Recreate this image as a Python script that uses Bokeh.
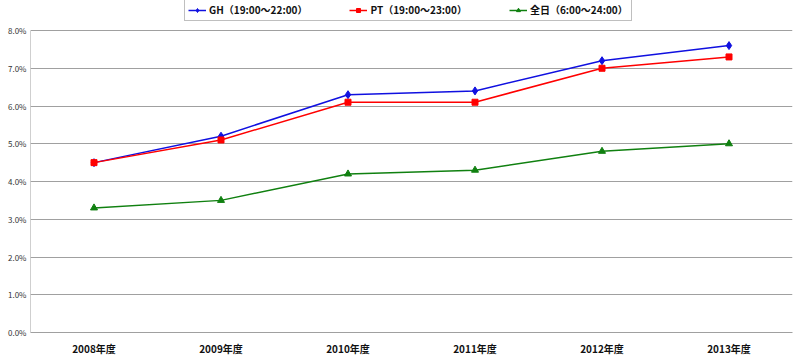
from bokeh.plotting import figure
from bokeh.models import Legend, LegendItem, NumeralTickFormatter, FixedTicker, Range1d
from bokeh.embed import file_html
from bokeh.resources import INLINE

years = ["2008年度", "2009年度", "2010年度", "2011年度", "2012年度", "2013年度"]
gh = [0.045, 0.052, 0.063, 0.064, 0.072, 0.076]
pt = [0.045, 0.051, 0.061, 0.061, 0.070, 0.073]
allday = [0.033, 0.035, 0.042, 0.043, 0.048, 0.050]
names = ["GH（19:00～22:00）", "PT（19:00～23:00）", "全日（6:00～24:00）"]
y_ticks = [0.0, 0.01, 0.02, 0.03, 0.04, 0.05, 0.06, 0.07, 0.08]
y_max = 0.08

FONT = "Noto Sans CJK JP"

# frame spans from the top of the page so the legend (drawn inside the frame) is not clipped;
# the 8.0% line sits 30px below the top
top_extra = 30 / 302
p = figure(width=800, height=359, x_range=years, y_range=Range1d(0, y_max * (1 + top_extra)),
           output_backend="svg", toolbar_location=None,
           min_border_left=30, min_border_right=8, min_border_top=0, min_border_bottom=27)
p.outline_line_color = None
p.background_fill_color = "white"
p.border_fill_color = "white"

p.xgrid.grid_line_color = None
p.ygrid.grid_line_color = "#a0a0a0"
p.ygrid.grid_line_width = 1
p.yaxis.ticker = FixedTicker(ticks=y_ticks)
p.yaxis.formatter = NumeralTickFormatter(format="0.0%")
p.yaxis.major_label_text_font = FONT
p.yaxis.major_label_text_font_size = "8px"
p.yaxis.major_label_text_color = "#333333"
p.yaxis.major_tick_out = 0
p.yaxis.major_tick_in = 0
p.yaxis.minor_tick_line_color = None
p.yaxis.minor_tick_out = 0
p.yaxis.major_label_standoff = 4
p.yaxis.axis_line_color = None

# left axis line only up to the top tick
p.segment(x0=[0], y0=[0], x1=[0], y1=[y_max], line_color="#a0a0a0", line_width=1)

p.xaxis.major_label_text_font = FONT
p.xaxis.major_label_text_font_size = "10px"
p.xaxis.major_label_text_font_style = "bold"
p.xaxis.major_label_text_color = "#111111"
p.xaxis.axis_line_color = "#a0a0a0"
p.xaxis.major_tick_line_color = None
p.xaxis.major_tick_out = 0
p.xaxis.major_tick_in = 0
p.xaxis.minor_tick_out = 0
p.xaxis.major_label_standoff = 8

l1 = p.line(years, gh, line_color="#1010e0", line_width=1.5)
m1 = p.scatter(years, gh, marker="diamond", size=8, fill_color="#1010e0", line_color="#1010e0")
l2 = p.line(years, pt, line_color="#ff0000", line_width=1.5)
m2 = p.scatter(years, pt, marker="square", size=6, fill_color="#ff0000", line_color="#ff0000")
l3 = p.line(years, allday, line_color="#108010", line_width=1.5)
m3 = p.scatter(years, allday, marker="triangle", size=7, fill_color="#108010", line_color="#108010")

legend = Legend(items=[LegendItem(label=names[0], renderers=[l1, m1]),
                       LegendItem(label=names[1], renderers=[l2, m2]),
                       LegendItem(label=names[2], renderers=[l3, m3])],
                orientation="horizontal", location=(154, 311))
legend.label_text_font = FONT
legend.label_text_font_size = "10px"
legend.label_text_font_style = "bold"
legend.label_text_color = "#111111"
legend.border_line_color = "#808080"
legend.border_line_width = 1
legend.background_fill_color = "white"
legend.background_fill_alpha = 1
legend.glyph_width = 18
legend.glyph_height = 10
legend.label_standoff = 3
legend.spacing = 42
legend.padding = 3
legend.margin = 0
legend.label_height = 10
p.add_layout(legend, "center")

open("out.html", "w").write(file_html(p, INLINE))
